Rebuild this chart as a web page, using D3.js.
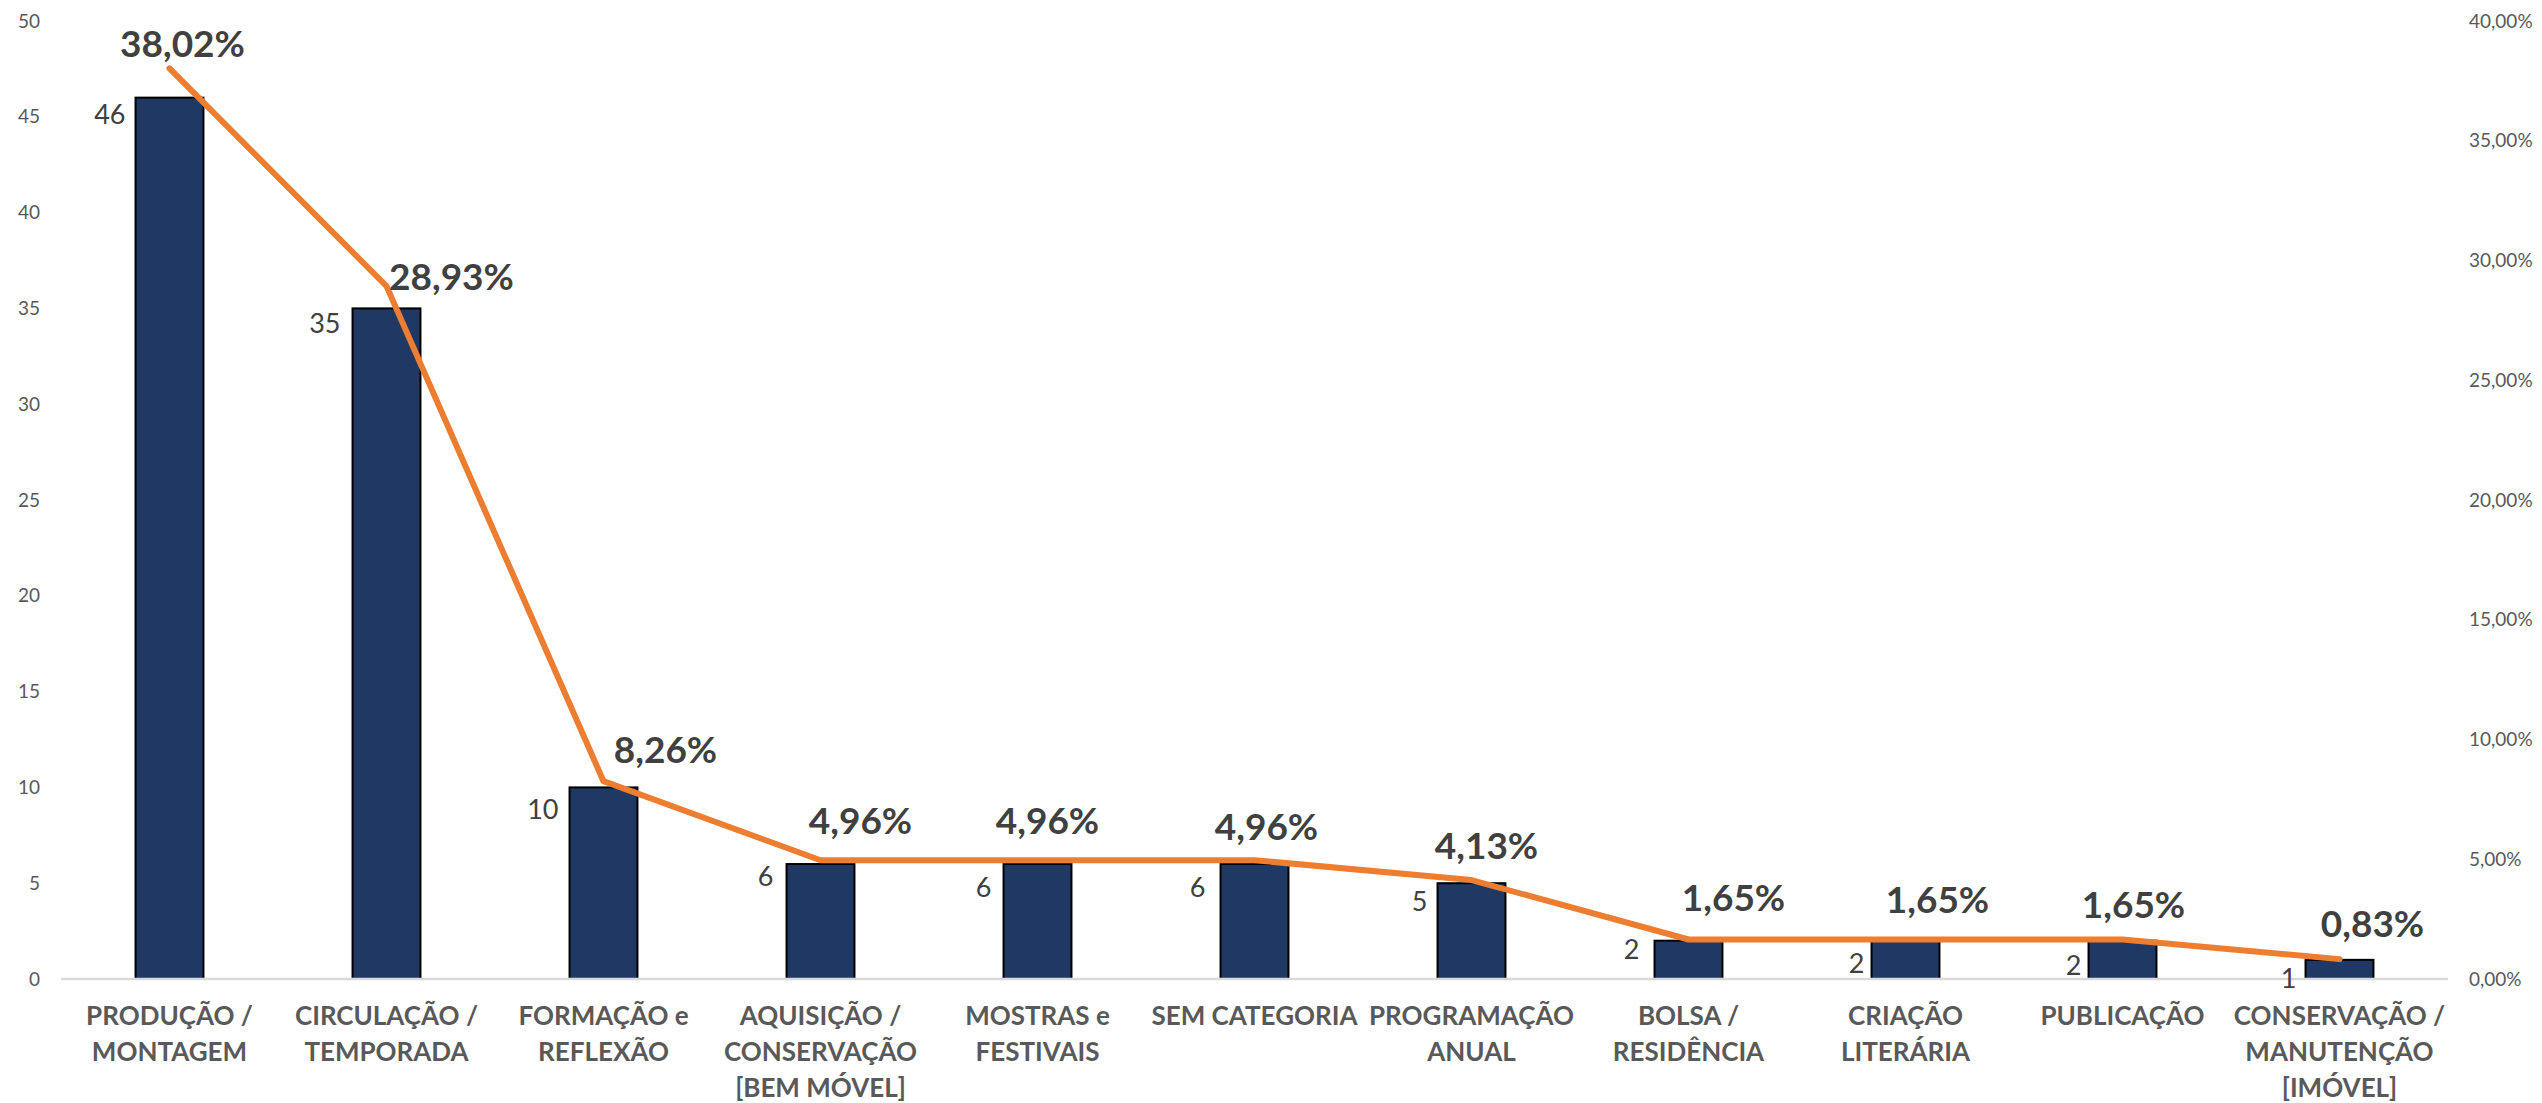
<!DOCTYPE html>
<html>
<head>
<meta charset="utf-8">
<script src="https://cdn.jsdelivr.net/npm/d3@7"></script>
<style>
  body { margin: 0; background: #fff; }
  svg { display: block; font-family: "Lato", "Open Sans", sans-serif; }
</style>
</head>
<body>
<div class="chart"></div>
<script>
// data
var categories = [
  "PRODUÇÃO /\nMONTAGEM",
  "CIRCULAÇÃO /\nTEMPORADA",
  "FORMAÇÃO e\nREFLEXÃO",
  "AQUISIÇÃO /\nCONSERVAÇÃO\n[BEM MÓVEL]",
  "MOSTRAS e\nFESTIVAIS",
  "SEM CATEGORIA",
  "PROGRAMAÇÃO\nANUAL",
  "BOLSA /\nRESIDÊNCIA",
  "CRIAÇÃO\nLITERÁRIA",
  "PUBLICAÇÃO",
  "CONSERVAÇÃO /\nMANUTENÇÃO\n[IMÓVEL]"
];
var counts = [46, 35, 10, 6, 6, 6, 5, 2, 2, 2, 1];
var shares = [0.3802, 0.2893, 0.0826, 0.0496, 0.0496, 0.0496, 0.0413, 0.0165, 0.0165, 0.0165, 0.0083];
var leftTicks = [0, 5, 10, 15, 20, 25, 30, 35, 40, 45, 50];
var rightTicks = [0, 0.05, 0.10, 0.15, 0.20, 0.25, 0.30, 0.35, 0.40];

// label nudges (px), the labels were moved by hand in the original
var pctNudge = [[13, -11], [65, 4], [62, -18], [40, -26], [10, -26], [12, -20], [15, -21], [45, -28], [32, -26], [11, -21], [33, -22]];
var valNudge = [[-10, 26], [-12, 25], [-11, 32], [-13, 22], [-12, 33], [-15, 33], [-10, 28], [-15, 18], [-7, 32], [-7, 34], [-9, 28]];

var svgWidth = 2542;
var svgHeight = 1103;
var plot = { left: 61, right: 2448, top: 21, bottom: 979 };

var ptBR = d3.formatLocale({ decimal: ",", thousands: ".", grouping: [3], currency: ["R$", ""] });
var fmtPct = ptBR.format(".2%");

var svg = d3.select(".chart")
  .append("svg")
  .attr("width", svgWidth)
  .attr("height", svgHeight);

var x = d3.scaleBand()
  .domain(d3.range(categories.length))
  .range([plot.left, plot.right]);
var barWidth = x.step() * 0.313;

var yLeft = d3.scaleLinear().domain([0, 50]).range([plot.bottom, plot.top]);
var yRight = d3.scaleLinear().domain([0, 0.4]).range([plot.bottom, plot.top]);

function cx(i) { return x(i) + x.bandwidth() / 2; }

// axes, no lines, labels only
var leftAxis = d3.axisLeft(yLeft).tickValues(leftTicks).tickSize(0).tickPadding(21);
var rightAxis = d3.axisRight(yRight).tickValues(rightTicks).tickSize(0).tickPadding(21)
  .tickFormat(function(d) { return fmtPct(d); });

svg.append("g")
  .attr("transform", "translate(" + plot.left + ",0)")
  .call(leftAxis)
  .call(function(g) { g.select(".domain").remove(); })
  .selectAll("text")
  .attr("fill", "#595959")
  .style("font-size", "19px")
  .style("font-family", "Lato, 'Open Sans', sans-serif");

svg.append("g")
  .attr("transform", "translate(" + plot.right + ",0)")
  .call(rightAxis)
  .call(function(g) { g.select(".domain").remove(); })
  .selectAll("text")
  .attr("fill", "#595959")
  .style("font-size", "19px")
  .style("font-family", "Lato, 'Open Sans', sans-serif");

// bars
svg.append("g")
  .selectAll("rect")
  .data(counts)
  .enter()
  .append("rect")
  .attr("x", function(d, i) { return cx(i) - barWidth / 2; })
  .attr("y", function(d) { return yLeft(d); })
  .attr("width", barWidth)
  .attr("height", function(d) { return plot.bottom - yLeft(d); })
  .attr("fill", "#203864")
  .attr("stroke", "#000")
  .attr("stroke-width", 2);

// baseline
svg.append("line")
  .attr("x1", plot.left)
  .attr("x2", plot.right)
  .attr("y1", plot.bottom)
  .attr("y2", plot.bottom)
  .attr("stroke", "#d9d9d9")
  .attr("stroke-width", 2.5);

// share line
var line = d3.line()
  .x(function(d, i) { return cx(i); })
  .y(function(d) { return yRight(d); });

svg.append("path")
  .datum(shares)
  .attr("d", line)
  .attr("fill", "none")
  .attr("stroke", "#ed7d31")
  .attr("stroke-width", 6)
  .attr("stroke-linejoin", "round")
  .attr("stroke-linecap", "round");

// count labels, left of each bar
svg.append("g")
  .selectAll("text")
  .data(counts)
  .enter()
  .append("text")
  .attr("x", function(d, i) { return cx(i) - barWidth / 2 + valNudge[i][0]; })
  .attr("y", function(d, i) { return yLeft(d) + valNudge[i][1]; })
  .attr("text-anchor", "end")
  .attr("fill", "#404040")
  .style("font-size", "27px")
  .text(function(d) { return d; });

// share labels
svg.append("g")
  .selectAll("text")
  .data(shares)
  .enter()
  .append("text")
  .attr("x", function(d, i) { return cx(i) + pctNudge[i][0]; })
  .attr("y", function(d, i) { return yRight(d) + pctNudge[i][1]; })
  .attr("text-anchor", "middle")
  .attr("fill", "#404040")
  .style("font-size", "37px")
  .style("font-weight", "bold")
  .text(function(d) { return fmtPct(d); });

// category labels
var cats = svg.append("g")
  .selectAll("text")
  .data(categories)
  .enter()
  .append("text")
  .attr("text-anchor", "middle")
  .attr("fill", "#595959")
  .style("font-size", "26px")
  .style("font-weight", "bold");

cats.each(function(d, i) {
  var t = d3.select(this);
  d.split("\n").forEach(function(part, k) {
    t.append("tspan")
      .attr("x", cx(i))
      .attr("y", 1025 + k * 36)
      .text(part);
  });
});
</script>
</body>
</html>
